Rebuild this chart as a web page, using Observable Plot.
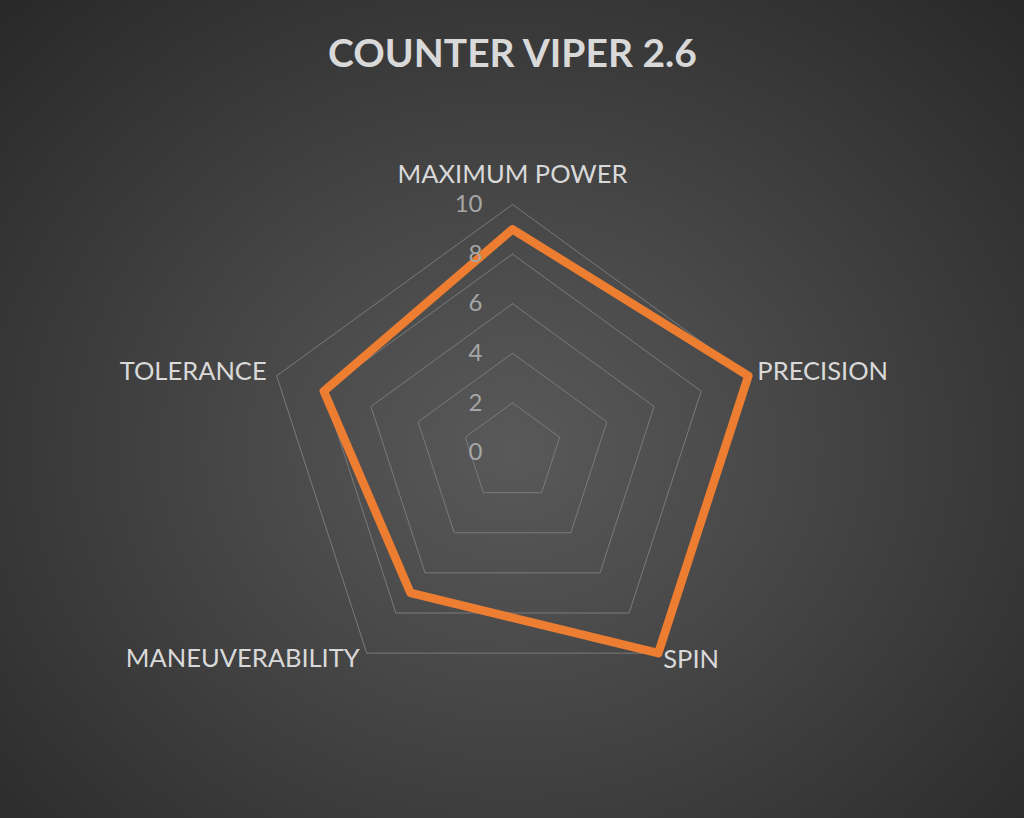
<!DOCTYPE html>
<html>
<head>
<meta charset="utf-8">
<script src="https://cdn.jsdelivr.net/npm/d3@7"></script>
<script src="https://cdn.jsdelivr.net/npm/@observablehq/plot@0.6"></script>
<style>
  html, body { margin: 0; padding: 0; width: 1024px; height: 818px; overflow: hidden; }
  body { background: radial-gradient(ellipse farthest-corner at 50% 55%, #595959 0%, #4b4b4b 30%, #282828 100%); font-family: Lato, "Open Sans", sans-serif; }
  #chart svg { display: block; }
</style>
</head>
<body>
<div id="chart"></div>
<script>
const title = "COUNTER VIPER 2.6";
const categories = ["MAXIMUM POWER", "PRECISION", "SPIN", "MANEUVERABILITY", "TOLERANCE"];
const values = [9, 10, 10, 7, 8];
const gridLevels = [2, 4, 6, 8, 10];
const tickLabels = [0, 2, 4, 6, 8, 10];
const maxValue = 10;

const W = 1024, H = 818;
const cx = 512, cy = 452, R = 248;
const unit = R / maxValue;
const n = categories.length;
const angle = i => (2 * Math.PI * i) / n;
const px = (v, i) => v * Math.sin(angle(i));
const py = (v, i) => v * Math.cos(angle(i));

// grid pentagons
const gridPts = [];
gridLevels.forEach(L => {
  for (let i = 0; i <= n; i++) gridPts.push({level: L, x: px(L, i % n), y: py(L, i % n)});
});
// series polygon
const seriesPts = [];
for (let i = 0; i <= n; i++) seriesPts.push({cat: categories[i % n], x: px(values[i % n], i % n), y: py(values[i % n], i % n)});

const labelStyle = [
  {anchor: "middle", dx: 0, dy: -30},
  {anchor: "start", dx: 9, dy: -4},
  {anchor: "start", dx: 5, dy: 7},
  {anchor: "end", dx: -7, dy: 6},
  {anchor: "end", dx: -10, dy: -4}
];
const catLabels = categories.map((c, i) => ({label: c, x: px(maxValue, i), y: py(maxValue, i), ...labelStyle[i]}));
const ticks = tickLabels.map(t => ({t, x: -30 / unit, y: t}));

const xDom = [-cx / unit, (W - cx) / unit];
const yDom = [-(H - cy) / unit, cy / unit];

const chart = Plot.plot({
  width: W, height: H,
  margin: 0,
  x: {domain: xDom, axis: null},
  y: {domain: yDom, axis: null},
  style: {background: "transparent", fontFamily: "Lato, 'Open Sans', sans-serif", overflow: "visible"},
  marks: [
    Plot.line(gridPts, {x: "x", y: "y", z: "level", stroke: "#7a7a7a", strokeWidth: 1}),
    Plot.line(seriesPts, {x: "x", y: "y", stroke: "#ED7D31", strokeWidth: 8.5, strokeLinejoin: "round", curve: "linear",
      style: "filter: drop-shadow(2px 3px 3px rgba(0,0,0,0.5))"}),
    Plot.text(ticks, {x: "x", y: "y", text: d => String(d.t), textAnchor: "end", fill: "#a6a6a6", fontSize: 24, lineAnchor: "middle"}),
    ...labelStyle.map((s, i) => Plot.text([catLabels[i]], {x: "x", y: "y", text: "label", textAnchor: s.anchor, dx: s.dx, dy: s.dy, fill: "#d9d9d9", fontSize: 25.5, lineAnchor: "middle"})),
    Plot.text([title], {frameAnchor: "top", dy: 54, text: d => d, fill: "#d9d9d9", fontSize: 39, fontWeight: "bold", lineAnchor: "middle"})
  ]
});
document.getElementById("chart").appendChild(chart);
</script>
</body>
</html>
